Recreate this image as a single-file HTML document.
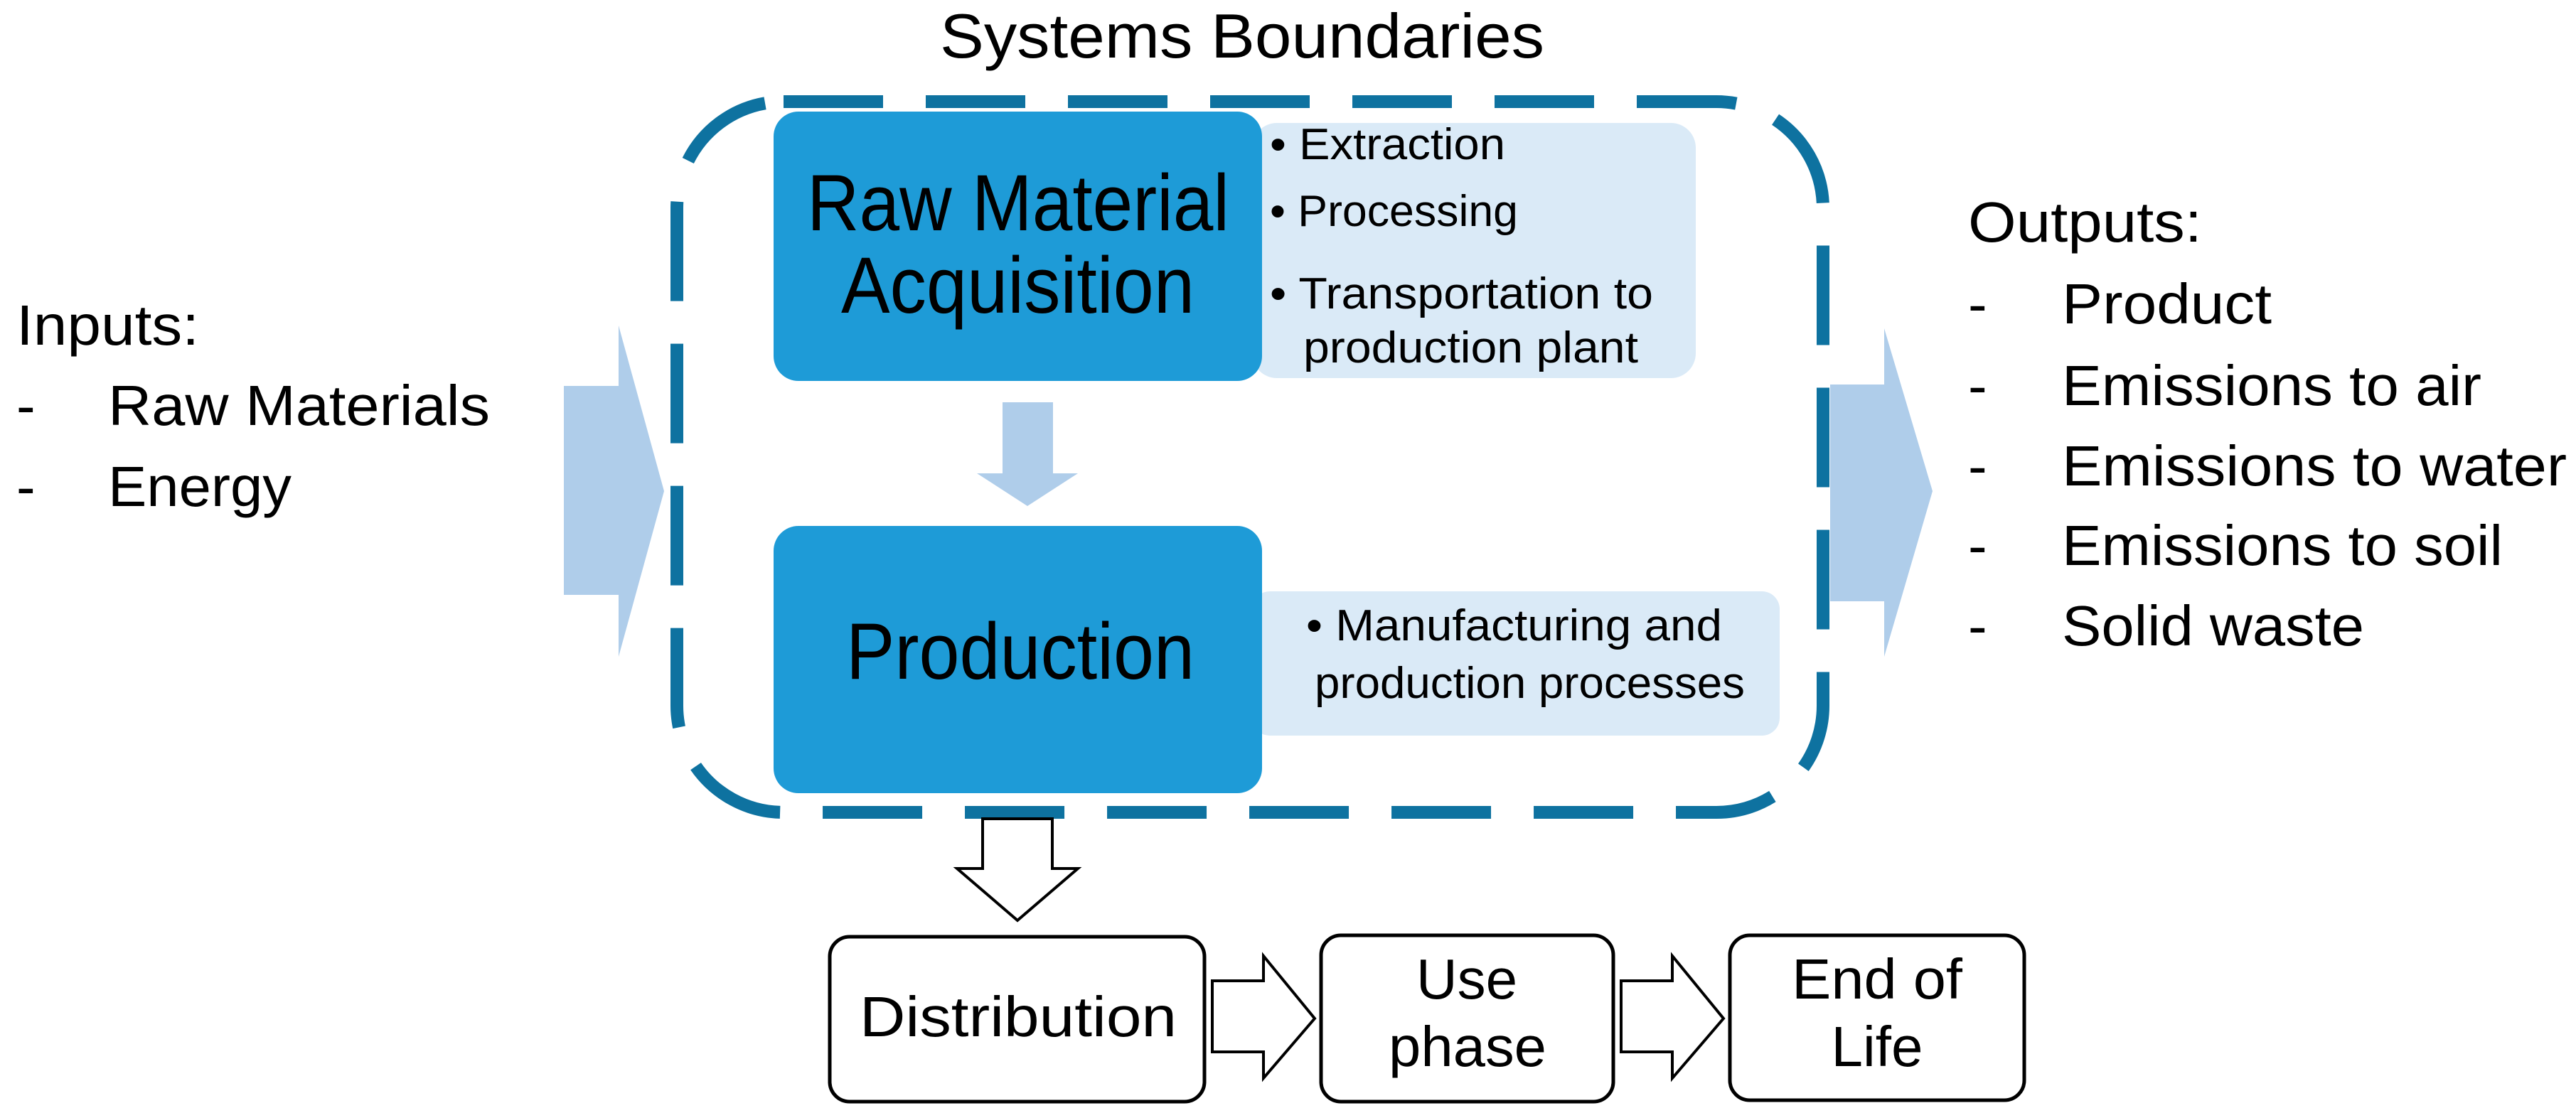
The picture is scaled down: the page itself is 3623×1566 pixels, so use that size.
<!DOCTYPE html>
<html><head><meta charset="utf-8"><style>
html,body{margin:0;padding:0;background:#fff;}
svg{display:block;}
text{font-family:"Liberation Sans",sans-serif;fill:#000;}
</style></head><body>
<svg width="3623" height="1566" viewBox="0 0 3623 1566" xmlns="http://www.w3.org/2000/svg">
<text x="1322" y="81" font-size="88" textLength="850" lengthAdjust="spacingAndGlyphs">Systems Boundaries</text>

<!-- left input arrow -->
<polygon points="793,543 870,543 870,458 934,691 870,924 870,837 793,837" fill="#AFCDEA"/>
<!-- right output arrow -->
<polygon points="2574,541 2650,541 2650,462 2718,691 2650,924 2650,846 2574,846" fill="#AFCDEA"/>

<!-- dashed boundary -->
<rect x="952" y="143" width="1612" height="1000" rx="150" ry="150" fill="none" stroke="#0E72A0" stroke-width="18" stroke-dasharray="140 60"/>

<!-- Raw material box -->
<rect x="1761" y="173" width="624" height="359" rx="35" fill="#DAEAF7"/>
<rect x="1088" y="157" width="687" height="379" rx="35" fill="#1E9BD7"/>
<text x="1135" y="324" font-size="112" textLength="594" lengthAdjust="spacingAndGlyphs">Raw Material</text>
<text x="1183" y="440" font-size="112" textLength="497" lengthAdjust="spacingAndGlyphs">Acquisition</text>
<text x="1786" y="224" font-size="62" textLength="331" lengthAdjust="spacingAndGlyphs">• Extraction</text>
<text x="1786" y="318" font-size="62" textLength="349" lengthAdjust="spacingAndGlyphs">• Processing</text>
<text x="1786" y="434" font-size="62" textLength="539" lengthAdjust="spacingAndGlyphs">• Transportation to</text>
<text x="1833" y="510" font-size="62" textLength="471" lengthAdjust="spacingAndGlyphs">production plant</text>

<!-- down arrow -->
<polygon points="1410,566 1481,566 1481,666 1516,666 1445,712 1374,666 1410,666" fill="#AFCDEA"/>

<!-- Production -->
<rect x="1761" y="832" width="742" height="203" rx="25" fill="#DAEAF7"/>
<rect x="1088" y="740" width="687" height="376" rx="35" fill="#1E9BD7"/>
<text x="1190" y="955" font-size="112" textLength="490" lengthAdjust="spacingAndGlyphs">Production</text>
<text x="1837" y="901" font-size="62" textLength="585" lengthAdjust="spacingAndGlyphs">• Manufacturing and</text>
<text x="1849" y="982" font-size="62" textLength="605" lengthAdjust="spacingAndGlyphs">production processes</text>

<!-- inputs -->
<text x="23" y="485" font-size="80" textLength="257" lengthAdjust="spacingAndGlyphs">Inputs:</text>
<text x="23" y="598" font-size="80">-</text>
<text x="152" y="598" font-size="80" textLength="537" lengthAdjust="spacingAndGlyphs">Raw Materials</text>
<text x="23" y="712" font-size="80">-</text>
<text x="152" y="712" font-size="80" textLength="258" lengthAdjust="spacingAndGlyphs">Energy</text>

<!-- outputs -->
<text x="2768" y="340" font-size="80" textLength="329" lengthAdjust="spacingAndGlyphs">Outputs:</text>
<g font-size="80">
<text x="2768" y="455">-</text><text x="2900" y="455" textLength="295" lengthAdjust="spacingAndGlyphs">Product</text>
<text x="2768" y="570">-</text><text x="2900" y="570" textLength="590" lengthAdjust="spacingAndGlyphs">Emissions to air</text>
<text x="2768" y="683">-</text><text x="2900" y="683" textLength="710" lengthAdjust="spacingAndGlyphs">Emissions to water</text>
<text x="2768" y="795">-</text><text x="2900" y="795" textLength="620" lengthAdjust="spacingAndGlyphs">Emissions to soil</text>
<text x="2768" y="908">-</text><text x="2900" y="908" textLength="425" lengthAdjust="spacingAndGlyphs">Solid waste</text>
</g>

<!-- hollow down arrow -->
<polygon points="1382,1152 1480,1152 1480,1222 1516,1222 1431,1295 1346,1222 1382,1222" fill="#fff" stroke="#000" stroke-width="4"/>

<!-- bottom boxes -->
<rect x="1167" y1="0" y="1318" width="527" height="232" rx="28" fill="#fff" stroke="#000" stroke-width="5"/>
<rect x="1858" y="1316" width="411" height="234" rx="28" fill="#fff" stroke="#000" stroke-width="5"/>
<rect x="2433" y="1316" width="414" height="232" rx="28" fill="#fff" stroke="#000" stroke-width="5"/>
<polygon points="1705,1380 1777,1380 1777,1345 1849,1433 1777,1517 1777,1480 1705,1480" fill="#fff" stroke="#000" stroke-width="4"/>
<polygon points="2280,1380 2352,1380 2352,1345 2424,1433 2352,1517 2352,1480 2280,1480" fill="#fff" stroke="#000" stroke-width="4"/>
<text x="1209" y="1458" font-size="80" textLength="446" lengthAdjust="spacingAndGlyphs">Distribution</text>
<text x="2063" y="1405" font-size="80" text-anchor="middle">Use</text>
<text x="2064" y="1500" font-size="80" text-anchor="middle" textLength="222" lengthAdjust="spacingAndGlyphs">phase</text>
<text x="2640" y="1405" font-size="80" text-anchor="middle" textLength="240" lengthAdjust="spacingAndGlyphs">End of</text>
<text x="2640" y="1500" font-size="80" text-anchor="middle">Life</text>
</svg>
</body></html>
